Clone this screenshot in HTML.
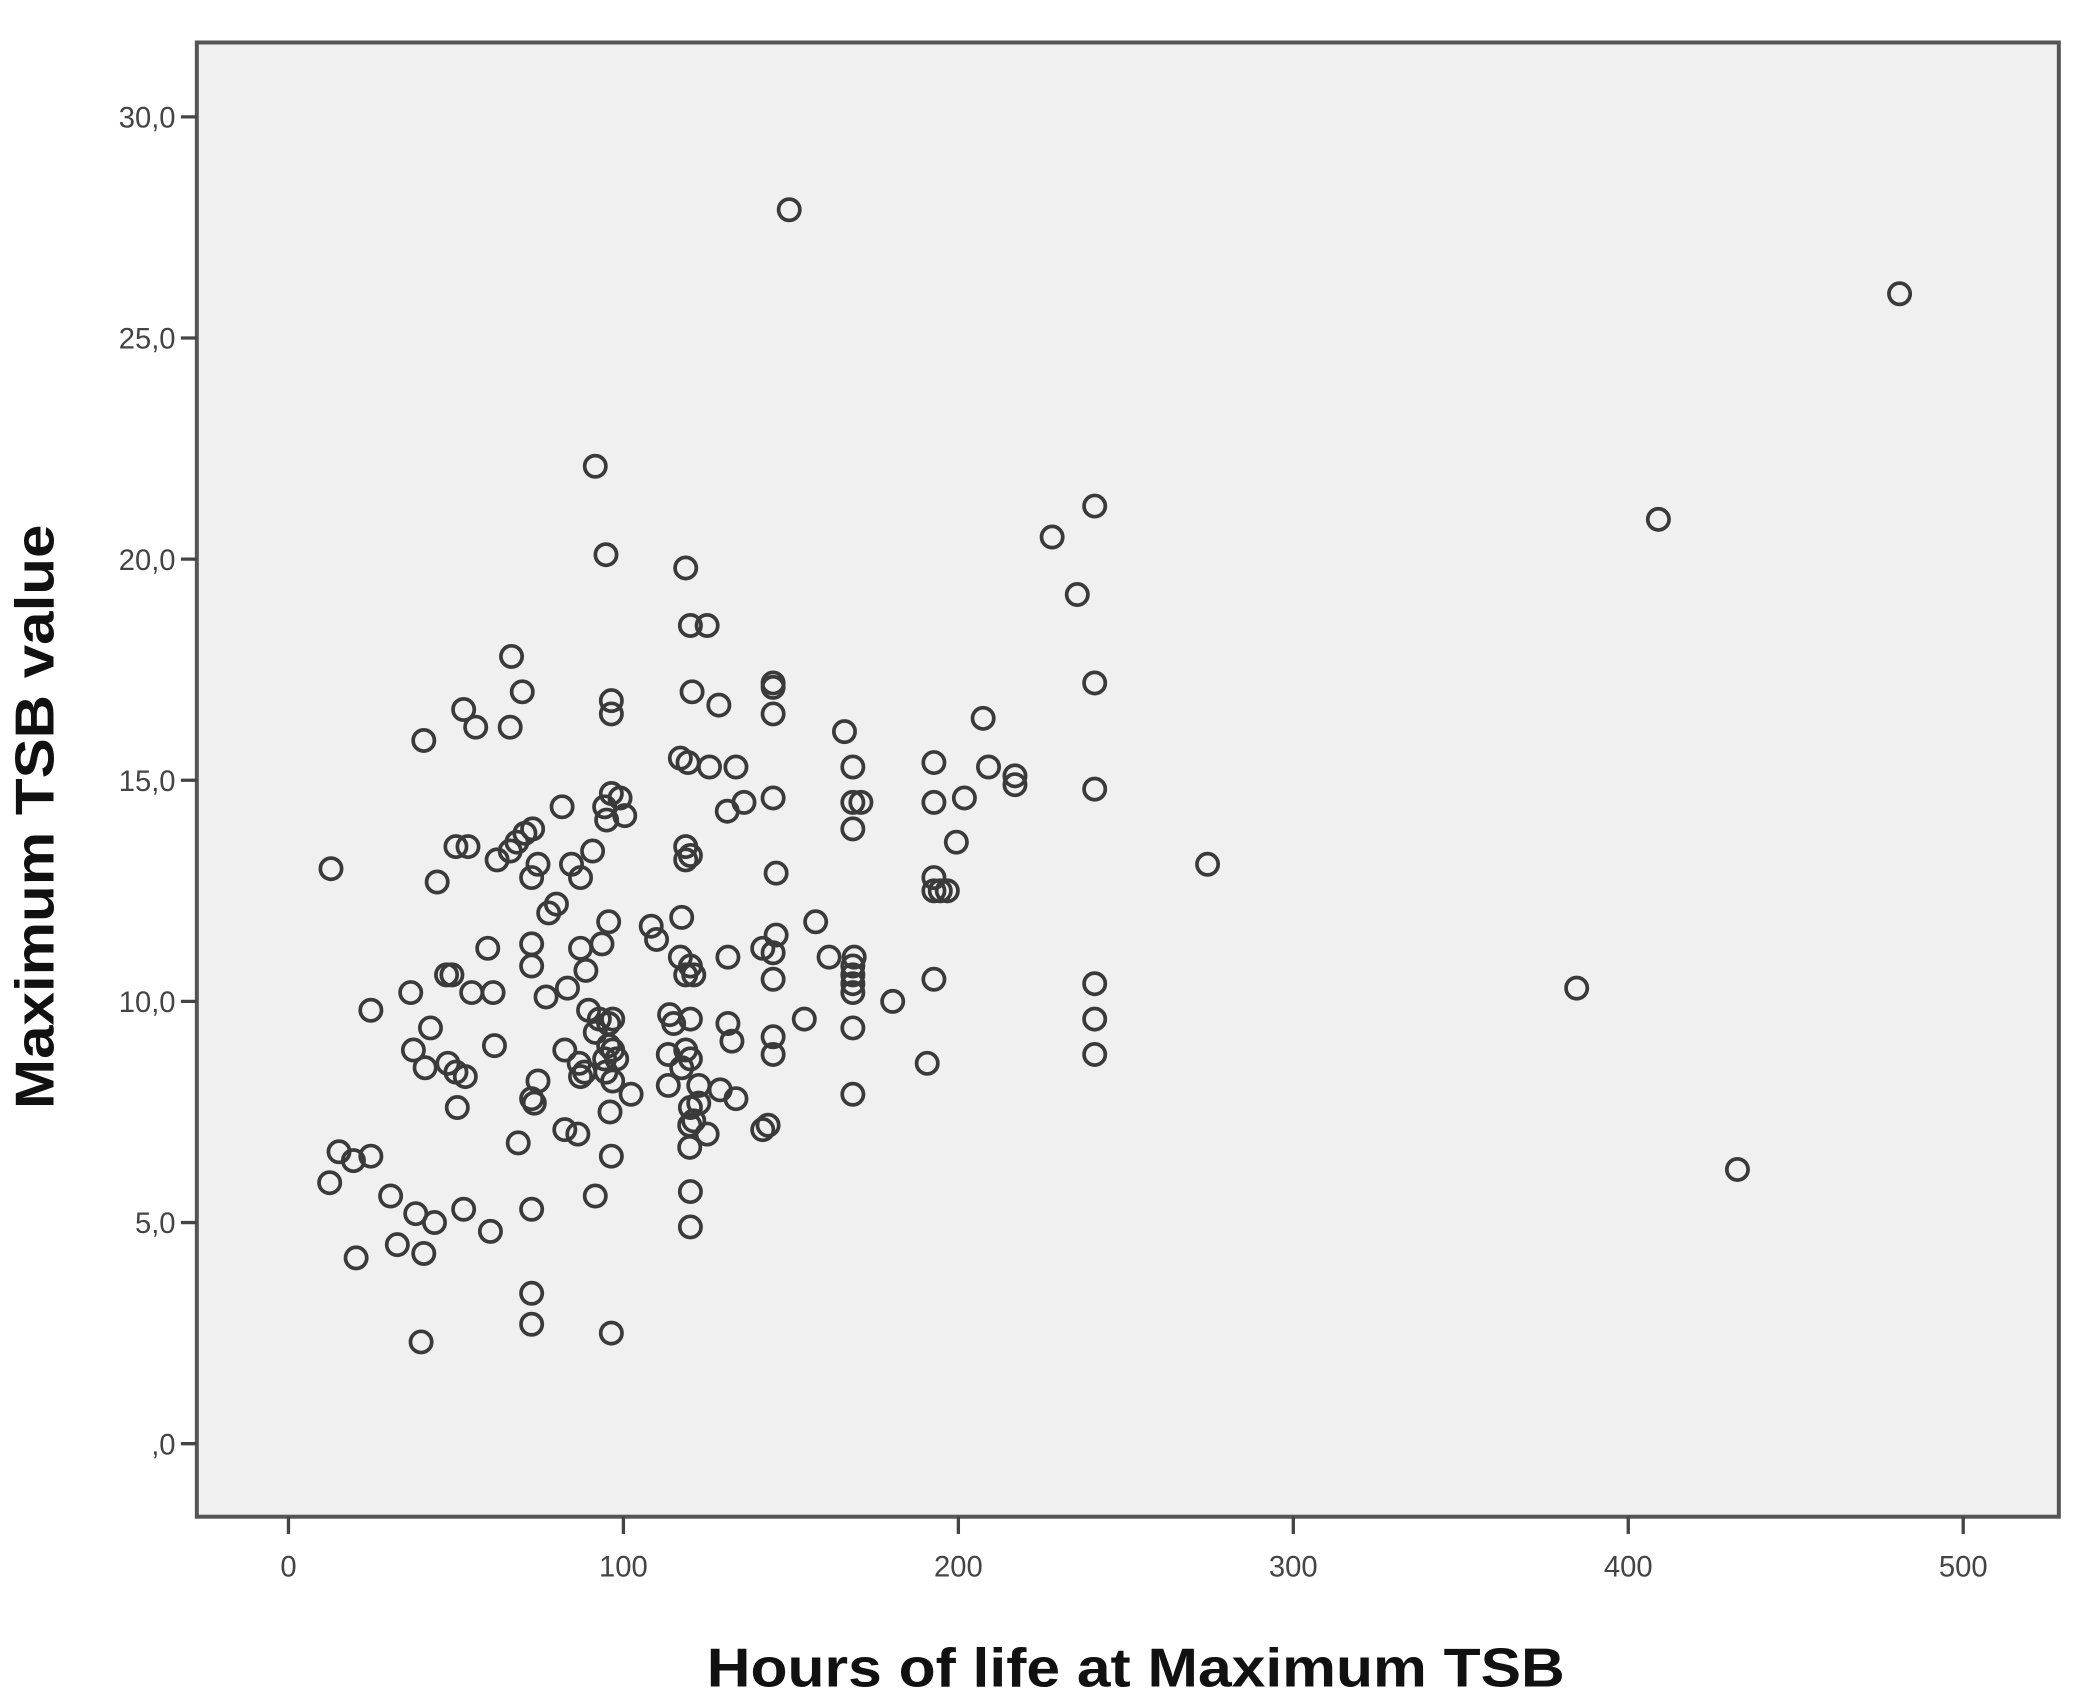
<!DOCTYPE html>
<html><head><meta charset="utf-8"><style>
html,body{margin:0;padding:0;background:#fff;}
svg{display:block;}
text{font-family:"Liberation Sans",sans-serif;}
</style></head><body>
<svg id="chart" width="2083" height="1696" viewBox="0 0 1568 1277" xmlns="http://www.w3.org/2000/svg">
<rect x="148" y="32" width="1402" height="1110" fill="#f0f0f0" stroke="#555" stroke-width="3"/>
<g id="yticks"></g>
<g id="xticks"></g>
<g id="points"></g>
<text transform="translate(40,615) rotate(-90)" text-anchor="middle" font-size="41" font-weight="bold" fill="#111" textLength="440" lengthAdjust="spacingAndGlyphs">Maximum TSB value</text>
<text x="855" y="1270" text-anchor="middle" font-size="41" font-weight="bold" fill="#111" textLength="646" lengthAdjust="spacingAndGlyphs">Hours of life at Maximum TSB</text>
</svg>
<script>
const xTicks=[0,100,200,300,400,500];
const yTicks=[0,5,10,15,20,25,30];
const yTickLabels=[",0","5,0","10,0","15,0","20,0","25,0","30,0"];
const hours=[149.5,481,409,91.6,94.8,118.6,240.7,228,235.5,120,125,66.6,69.8,120.5,144.7,144.7,240.7,52.3,55.9,66.2,96.4,96.4,128.5,144.7,166,207.4,40.4,117,119.3,125.7,133.6,168.5,192.7,209,216.9,216.9,240.7,96.4,99,94.4,100.4,95,81.7,144.7,131,136,168.5,170.9,168.5,192.7,201.8,199.4,72.9,70.6,68.2,66.2,50,53.6,62.3,90.8,84.5,87.2,74.5,72.6,44.4,12.7,118.6,120,118.6,145.6,274.4,192.7,192.7,194.6,196.7,80,77.7,95.6,108.3,109.9,117.4,157.4,145.6,141.6,144.7,161.4,131.2,168.9,168.5,168.5,168.5,168.5,87.2,93.6,72.6,72.6,59.5,117,120,118.6,121,144.7,192.7,240.7,384.6,47.2,48.8,36.5,54.7,61.1,76.9,83.3,88.8,180.4,24.6,89.6,92.8,95.6,96.8,113.8,115,120,131.2,154,168.5,240.7,42.4,91.6,144.7,132.4,61.5,37.3,82.5,95.6,96.8,94.4,98,113.4,118.6,120,144.7,240.7,190.7,40.8,47.6,50,52.8,86.8,88.4,87.2,94.8,96.8,117.4,113.4,74.5,122.5,102.3,128.9,133.6,168.5,72.6,73.4,122.5,120,50.4,96,121,119.8,125,141.6,143.2,82.5,86.4,119.8,68.6,96.4,15.1,24.6,19.4,432.6,12.3,120,30.5,91.6,52.3,72.6,38,43.6,120,60.3,32.5,40.4,20.2,72.6,72.6,96.4,39.6];
const tsb=[27.9,26.0,20.9,22.1,20.1,19.8,21.2,20.5,19.2,18.5,18.5,17.8,17.0,17.0,17.2,17.1,17.2,16.6,16.2,16.2,16.8,16.5,16.7,16.5,16.1,16.4,15.9,15.5,15.4,15.3,15.3,15.3,15.4,15.3,15.1,14.9,14.8,14.7,14.6,14.4,14.2,14.1,14.4,14.6,14.3,14.5,14.5,14.5,13.9,14.5,14.6,13.6,13.9,13.8,13.6,13.4,13.5,13.5,13.2,13.4,13.1,12.8,13.1,12.8,12.7,13.0,13.5,13.3,13.2,12.9,13.1,12.8,12.5,12.5,12.5,12.2,12.0,11.8,11.7,11.4,11.9,11.8,11.5,11.2,11.1,11.0,11.0,11.0,10.8,10.6,10.4,10.2,11.2,11.3,11.3,10.8,11.2,11.0,10.8,10.6,10.6,10.5,10.5,10.4,10.3,10.6,10.6,10.2,10.2,10.2,10.1,10.3,10.7,10.0,9.8,9.8,9.6,9.5,9.6,9.7,9.5,9.6,9.5,9.6,9.4,9.6,9.4,9.3,9.2,9.1,9.0,8.9,8.9,9.0,8.9,8.7,8.7,8.8,8.9,8.7,8.8,8.8,8.6,8.5,8.6,8.4,8.3,8.6,8.4,8.3,8.4,8.2,8.5,8.1,8.2,8.1,7.9,8.0,7.8,7.9,7.8,7.7,7.7,7.6,7.6,7.5,7.3,7.2,7.0,7.1,7.2,7.1,7.0,6.7,6.8,6.5,6.6,6.5,6.4,6.2,5.9,5.7,5.6,5.6,5.3,5.3,5.2,5.0,4.9,4.8,4.5,4.3,4.2,3.4,2.7,2.5,2.3];
const NS="http://www.w3.org/2000/svg";
function xs(v){return 217+v*2.522;}
function ys(v){return 1087-v*33.3;}
const yg=document.getElementById('yticks'),xg=document.getElementById('xticks'),pg=document.getElementById('points');
yTicks.forEach((t,i)=>{
  const l=document.createElementNS(NS,'line');
  
  
  l.setAttribute('x1',136);l.setAttribute('x2',148);l.setAttribute('y1',ys(t));l.setAttribute('y2',ys(t));
  l.setAttribute('stroke','#444');l.setAttribute('stroke-width','2.5');yg.appendChild(l);
  const tx=document.createElementNS(NS,'text');
  
  
  tx.setAttribute('x',132);tx.setAttribute('y',ys(t)+8);tx.setAttribute('text-anchor','end');
  tx.setAttribute('font-size','22');tx.setAttribute('fill','#444');tx.textContent=yTickLabels[i];yg.appendChild(tx);
});
xTicks.forEach(t=>{
  const l=document.createElementNS(NS,'line');
  
  
  l.setAttribute('x1',xs(t));l.setAttribute('x2',xs(t));l.setAttribute('y1',1142);l.setAttribute('y2',1155);
  l.setAttribute('stroke','#444');l.setAttribute('stroke-width','2.5');xg.appendChild(l);
  const tx=document.createElementNS(NS,'text');
  
  
  tx.setAttribute('x',xs(t));tx.setAttribute('y',1187);tx.setAttribute('text-anchor','middle');
  tx.setAttribute('font-size','22');tx.setAttribute('fill','#444');tx.textContent=t;xg.appendChild(tx);
});
hours.forEach((h,i)=>{
  const c=document.createElementNS(NS,'circle');
  
  
  c.setAttribute('cx',xs(h));c.setAttribute('cy',ys(tsb[i]));c.setAttribute('r',8);
  c.setAttribute('fill','none');c.setAttribute('stroke','#3a3a3a');c.setAttribute('stroke-width','2.8');
  pg.appendChild(c);
});
</script>
</body></html>
